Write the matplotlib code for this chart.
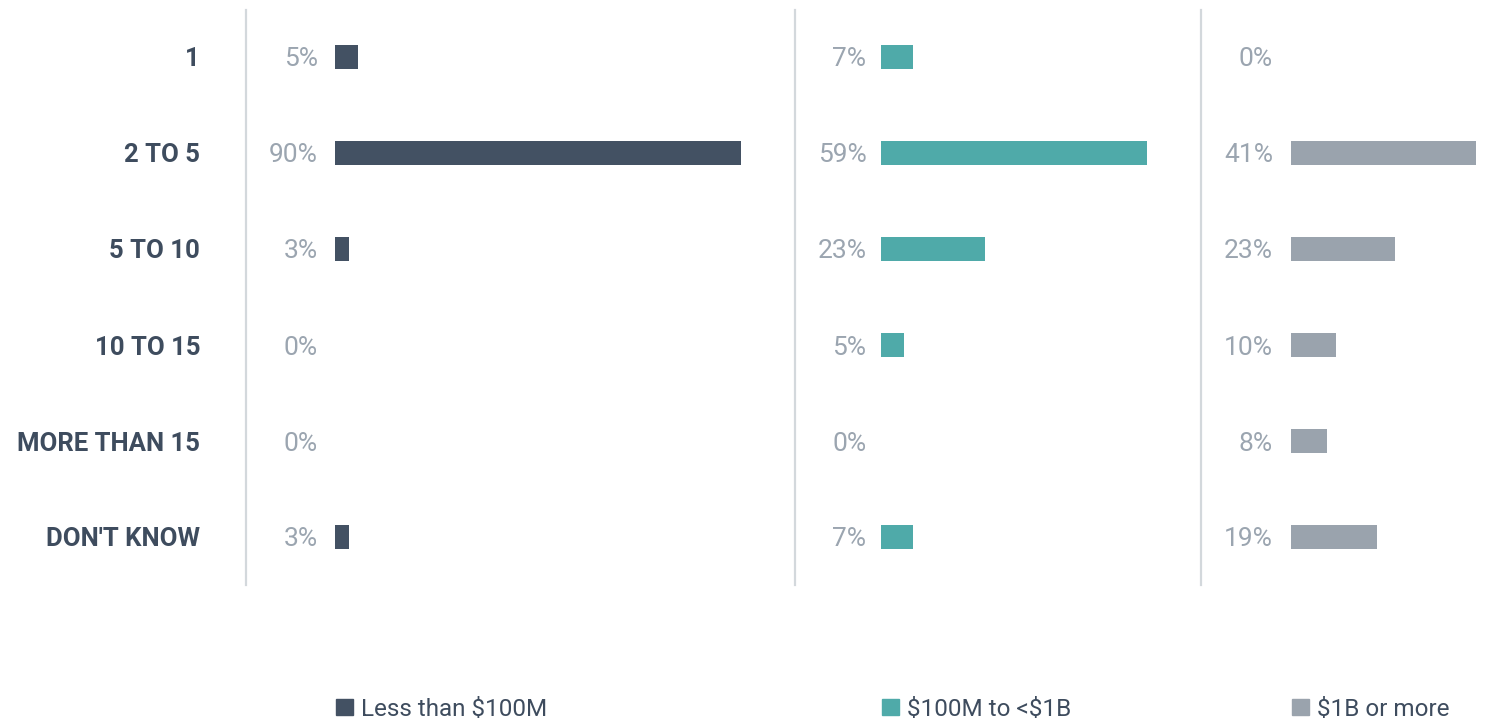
import matplotlib.pyplot as plt
from matplotlib.patches import Patch

plt.rcParams['font.family'] = ['Roboto', 'DejaVu Sans']

categories = ["1", "2 TO 5", "5 TO 10", "10 TO 15", "MORE THAN 15", "DON'T KNOW"]
series_names = ["Less than \\$100M", "\\$100M to <\\$1B", "\\$1B or more"]
small_cos = [5, 90, 3, 0, 0, 3]
mid_cos = [7, 59, 23, 5, 0, 7]
large_cos = [0, 41, 23, 10, 8, 19]

colors = ["#435163", "#4faaa9", "#9aa3ad"]
label_grey = "#9ba5b0"
cat_color = "#3e4c5e"
rule_color = "#d3d8dc"

W, H = 1492, 721
fig = plt.figure(figsize=(W / 100, H / 100), dpi=100)

# panel geometry in pixels: left rule, right edge, where bars start, label gap
panels = [(246, 795, 335, 12.5), (795, 1201, 881, 10.5), (1201, 1492, 1291, 13)]
px_per_pct = 4.51
top_px, bot_px = 10, 585
row0, row_step = 57, 96

all_vals = [small_cos, mid_cos, large_cos]
for k, (left, right, start, gap) in enumerate(panels):
    ax = fig.add_axes([left / W, 1 - bot_px / H, (right - left) / W, (bot_px - top_px) / H])
    x0 = -(start - left) / px_per_pct
    ax.set_xlim(x0, x0 + (right - left) / px_per_pct)
    ax.set_ylim(5 + (bot_px - (row0 + 5 * row_step)) / row_step, -(row0 - top_px) / row_step)
    ypos = list(range(len(categories)))
    ax.barh(ypos, all_vals[k], height=24 / row_step, color=colors[k])
    for i, v in enumerate(all_vals[k]):
        ax.annotate(f"{v}%", xy=(0, i), xytext=(-gap, 0), textcoords='offset points',
                    ha='right', va='center_baseline', fontsize=19, color=label_grey)
    for s in ['top', 'right', 'bottom']:
        ax.spines[s].set_visible(False)
    ax.spines['left'].set_color(rule_color)
    ax.spines['left'].set_linewidth(1.6)
    ax.set_xticks([])
    if k == 0:
        ax.set_yticks(ypos)
        ax.set_yticklabels(categories, fontsize=18.5, fontweight='bold', color=cat_color,
                           va='center_baseline')
        ax.tick_params(axis='y', length=0, pad=33)
    else:
        ax.set_yticks([])

    fig.legend(handles=[Patch(color=colors[k], label=series_names[k])],
               loc='center left', bbox_to_anchor=((start + 1) / W, 1 - 709 / H),
               frameon=False, borderpad=0, borderaxespad=0,
               handlelength=0.68, handleheight=0.68, handletextpad=0.35,
               prop={'size': 17.5}, labelcolor=cat_color)

fig.savefig("out.png", dpi=100)
